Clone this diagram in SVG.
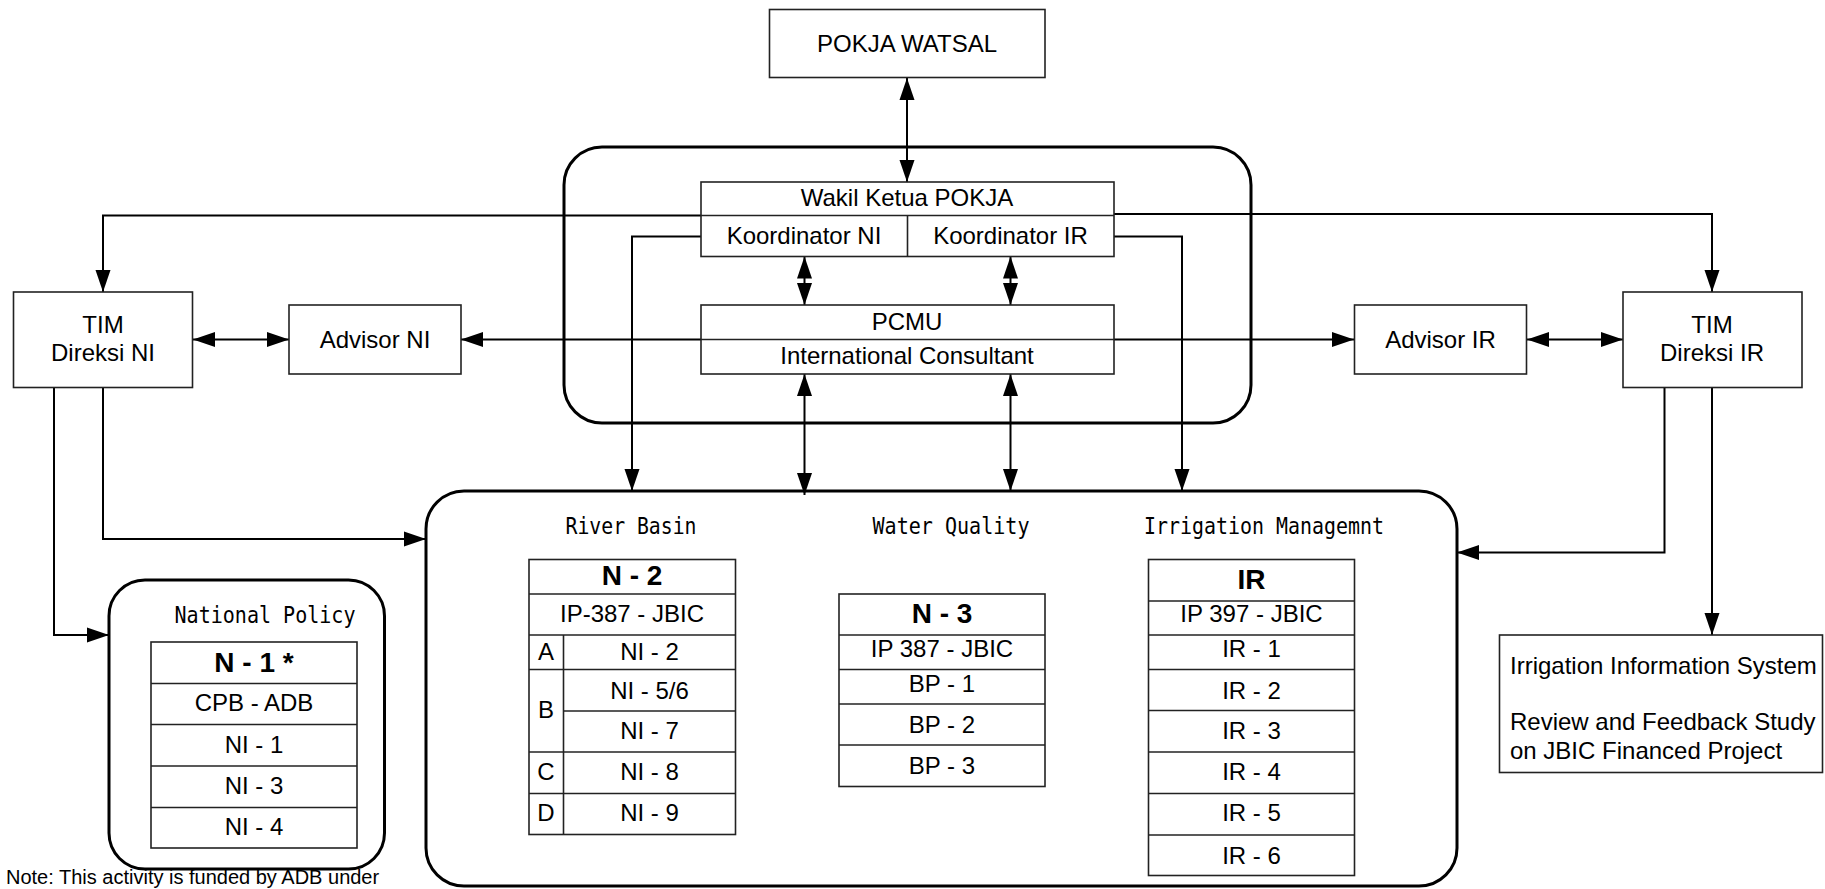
<svg xmlns="http://www.w3.org/2000/svg" width="1825" height="889" viewBox="0 0 1825 889">
<defs>
<marker id="ah" markerUnits="userSpaceOnUse" markerWidth="22" markerHeight="16" refX="22" refY="7.5" orient="auto-start-reverse" viewBox="0 0 22 15">
<path d="M0,0 L22,7.5 L0,15 z" fill="#000"/>
</marker>
</defs>
<style>
.bx{fill:#fff;stroke:#222;stroke-width:1.6}
.rc{fill:none;stroke:#000;stroke-width:3}
.ln{fill:none;stroke:#222;stroke-width:1.6}
.cn{fill:none;stroke:#000;stroke-width:2}
.t{font-family:"Liberation Sans",Arial,sans-serif;font-size:24px;fill:#000;text-anchor:middle}
.tb{font-family:"Liberation Sans",Arial,sans-serif;font-size:28px;font-weight:bold;fill:#000;text-anchor:middle}
.tl{font-family:"Liberation Sans",Arial,sans-serif;font-size:24px;fill:#000}
.m{font-family:"DejaVu Sans Mono","Liberation Mono",monospace;font-size:23px;fill:#000;text-anchor:middle}
.n{font-family:"Liberation Sans",Arial,sans-serif;font-size:20px;fill:#000}
</style>
<rect width="1825" height="889" fill="#fff"/>

<g id="pokja-container">
<rect class="rc" x="564" y="147" width="687" height="276" rx="38" ry="38"/>
</g>

<g id="bottom-container">
<rect class="rc" x="426" y="491" width="1031" height="395" rx="38" ry="38"/>
<text class="m" x="631" y="533.5" textLength="131" lengthAdjust="spacingAndGlyphs">River Basin</text>
<text class="m" x="951" y="533.5" textLength="157" lengthAdjust="spacingAndGlyphs">Water Quality</text>
<text class="m" x="1264" y="533.5" textLength="240" lengthAdjust="spacingAndGlyphs">Irrigation Managemnt</text>
</g>

<g id="connectors">
<line class="cn" x1="907" y1="78" x2="907" y2="182" marker-start="url(#ah)" marker-end="url(#ah)"/>
<path class="cn" d="M701,215.5 H103 V292" marker-end="url(#ah)"/>
<path class="cn" d="M1114,214 H1712 V292" marker-end="url(#ah)"/>
<path class="cn" d="M701,236.5 H632 V491" marker-end="url(#ah)"/>
<path class="cn" d="M1114,236.5 H1182 V491" marker-end="url(#ah)"/>
<line class="cn" x1="804.5" y1="256.5" x2="804.5" y2="305" marker-start="url(#ah)" marker-end="url(#ah)"/>
<line class="cn" x1="1010.5" y1="256.5" x2="1010.5" y2="305" marker-start="url(#ah)" marker-end="url(#ah)"/>
<line class="cn" x1="804.5" y1="374" x2="804.5" y2="495" marker-start="url(#ah)" marker-end="url(#ah)"/>
<line class="cn" x1="1010.5" y1="374" x2="1010.5" y2="491" marker-start="url(#ah)" marker-end="url(#ah)"/>
<line class="cn" x1="461" y1="339.5" x2="1354" y2="339.5" marker-start="url(#ah)" marker-end="url(#ah)"/>
<line class="cn" x1="193" y1="339.5" x2="289" y2="339.5" marker-start="url(#ah)" marker-end="url(#ah)"/>
<line class="cn" x1="1527" y1="339.5" x2="1623" y2="339.5" marker-start="url(#ah)" marker-end="url(#ah)"/>
<path class="cn" d="M54,387 V635 H109" marker-end="url(#ah)"/>
<path class="cn" d="M103,387 V539 H426" marker-end="url(#ah)"/>
<path class="cn" d="M1664.5,387 V552.5 H1457" marker-end="url(#ah)"/>
<path class="cn" d="M1712,387 V635" marker-end="url(#ah)"/>
</g>

<g id="pokja-watsal">
<rect class="bx" x="769.5" y="9.5" width="275.5" height="68"/>
<text class="t" x="907" y="51.5">POKJA WATSAL</text>
</g>

<g id="wakil-ketua">
<rect class="bx" x="701" y="182" width="413" height="74.5"/>
<line class="ln" x1="701" y1="215.5" x2="1114" y2="215.5"/>
<line class="ln" x1="907.5" y1="215.5" x2="907.5" y2="256.5"/>
<text class="t" x="907" y="206">Wakil Ketua POKJA</text>
<text class="t" x="804" y="243.5">Koordinator NI</text>
<text class="t" x="1010.5" y="243.5">Koordinator IR</text>
</g>

<g id="pcmu">
<rect class="bx" x="701" y="305" width="413" height="69"/>
<line class="ln" x1="701" y1="339.5" x2="1114" y2="339.5"/>
<text class="t" x="907" y="330">PCMU</text>
<text class="t" x="907" y="364">International Consultant</text>
</g>

<g id="tim-ni">
<rect class="bx" x="13.5" y="292" width="179" height="95.5"/>
<text class="t" x="103" y="332.5">TIM</text>
<text class="t" x="103" y="361">Direksi NI</text>
</g>

<g id="advisor-ni">
<rect class="bx" x="289" y="305" width="172" height="69"/>
<text class="t" x="375" y="347.5">Advisor NI</text>
</g>

<g id="advisor-ir">
<rect class="bx" x="1354.5" y="305" width="172" height="69"/>
<text class="t" x="1440.5" y="347.5">Advisor IR</text>
</g>

<g id="tim-ir">
<rect class="bx" x="1623" y="292" width="179" height="95.5"/>
<text class="t" x="1712" y="332.5">TIM</text>
<text class="t" x="1712" y="361">Direksi IR</text>
</g>

<g id="national-policy">
<rect class="rc" x="109" y="580" width="275.5" height="289" rx="36" ry="36"/>
<text class="m" x="265" y="622.5" textLength="181" lengthAdjust="spacingAndGlyphs">National Policy</text>
<rect class="bx" x="151" y="642" width="206" height="206"/>
<line class="ln" x1="151" y1="683.5" x2="357" y2="683.5"/>
<line class="ln" x1="151" y1="724.5" x2="357" y2="724.5"/>
<line class="ln" x1="151" y1="766" x2="357" y2="766"/>
<line class="ln" x1="151" y1="807.5" x2="357" y2="807.5"/>
<text class="tb" x="254" y="672">N - 1 *</text>
<text class="t" x="254" y="711">CPB - ADB</text>
<text class="t" x="254" y="752.5">NI - 1</text>
<text class="t" x="254" y="794">NI - 3</text>
<text class="t" x="254" y="835">NI - 4</text>
</g>

<g id="n2-table">
<rect class="bx" x="529" y="559.5" width="206.5" height="275"/>
<line class="ln" x1="529" y1="594" x2="735.5" y2="594"/>
<line class="ln" x1="529" y1="635" x2="735.5" y2="635"/>
<line class="ln" x1="529" y1="669.5" x2="735.5" y2="669.5"/>
<line class="ln" x1="563.5" y1="711" x2="735.5" y2="711"/>
<line class="ln" x1="529" y1="752" x2="735.5" y2="752"/>
<line class="ln" x1="529" y1="793.5" x2="735.5" y2="793.5"/>
<line class="ln" x1="563.5" y1="635" x2="563.5" y2="834.5"/>
<text class="tb" x="632" y="585">N - 2</text>
<text class="t" x="632" y="622">IP-387 - JBIC</text>
<text class="t" x="546" y="660">A</text>
<text class="t" x="546" y="718">B</text>
<text class="t" x="546" y="780">C</text>
<text class="t" x="546" y="820.5">D</text>
<text class="t" x="649.5" y="660">NI - 2</text>
<text class="t" x="649.5" y="698.5">NI - 5/6</text>
<text class="t" x="649.5" y="738.5">NI - 7</text>
<text class="t" x="649.5" y="780">NI - 8</text>
<text class="t" x="649.5" y="821">NI - 9</text>
</g>

<g id="n3-table">
<rect class="bx" x="839" y="594" width="206" height="192.5"/>
<line class="ln" x1="839" y1="635" x2="1045" y2="635"/>
<line class="ln" x1="839" y1="669.5" x2="1045" y2="669.5"/>
<line class="ln" x1="839" y1="704" x2="1045" y2="704"/>
<line class="ln" x1="839" y1="745" x2="1045" y2="745"/>
<text class="tb" x="942" y="623">N - 3</text>
<text class="t" x="942" y="657">IP 387 - JBIC</text>
<text class="t" x="942" y="692">BP - 1</text>
<text class="t" x="942" y="732.5">BP - 2</text>
<text class="t" x="942" y="773.5">BP - 3</text>
</g>

<g id="ir-table">
<rect class="bx" x="1148.5" y="559.5" width="206" height="316"/>
<line class="ln" x1="1148.5" y1="601" x2="1354.5" y2="601"/>
<line class="ln" x1="1148.5" y1="635" x2="1354.5" y2="635"/>
<line class="ln" x1="1148.5" y1="669.5" x2="1354.5" y2="669.5"/>
<line class="ln" x1="1148.5" y1="710.5" x2="1354.5" y2="710.5"/>
<line class="ln" x1="1148.5" y1="752" x2="1354.5" y2="752"/>
<line class="ln" x1="1148.5" y1="793.5" x2="1354.5" y2="793.5"/>
<line class="ln" x1="1148.5" y1="835" x2="1354.5" y2="835"/>
<text class="tb" x="1251.5" y="588.5">IR</text>
<text class="t" x="1251.5" y="622">IP 397 - JBIC</text>
<text class="t" x="1251.5" y="657">IR - 1</text>
<text class="t" x="1251.5" y="698.5">IR - 2</text>
<text class="t" x="1251.5" y="739">IR - 3</text>
<text class="t" x="1251.5" y="780">IR - 4</text>
<text class="t" x="1251.5" y="821">IR - 5</text>
<text class="t" x="1251.5" y="863.5">IR - 6</text>
</g>

<g id="info-system">
<rect class="bx" x="1499.5" y="635" width="323" height="137.5"/>
<text class="tl" x="1510" y="673.5">Irrigation Information System</text>
<text class="tl" x="1510" y="730">Review and Feedback Study</text>
<text class="tl" x="1510" y="758.5">on JBIC Financed Project</text>
</g>

<g id="note">
<text class="n" x="6" y="884">Note: This activity is funded by ADB under</text>
</g>
</svg>
